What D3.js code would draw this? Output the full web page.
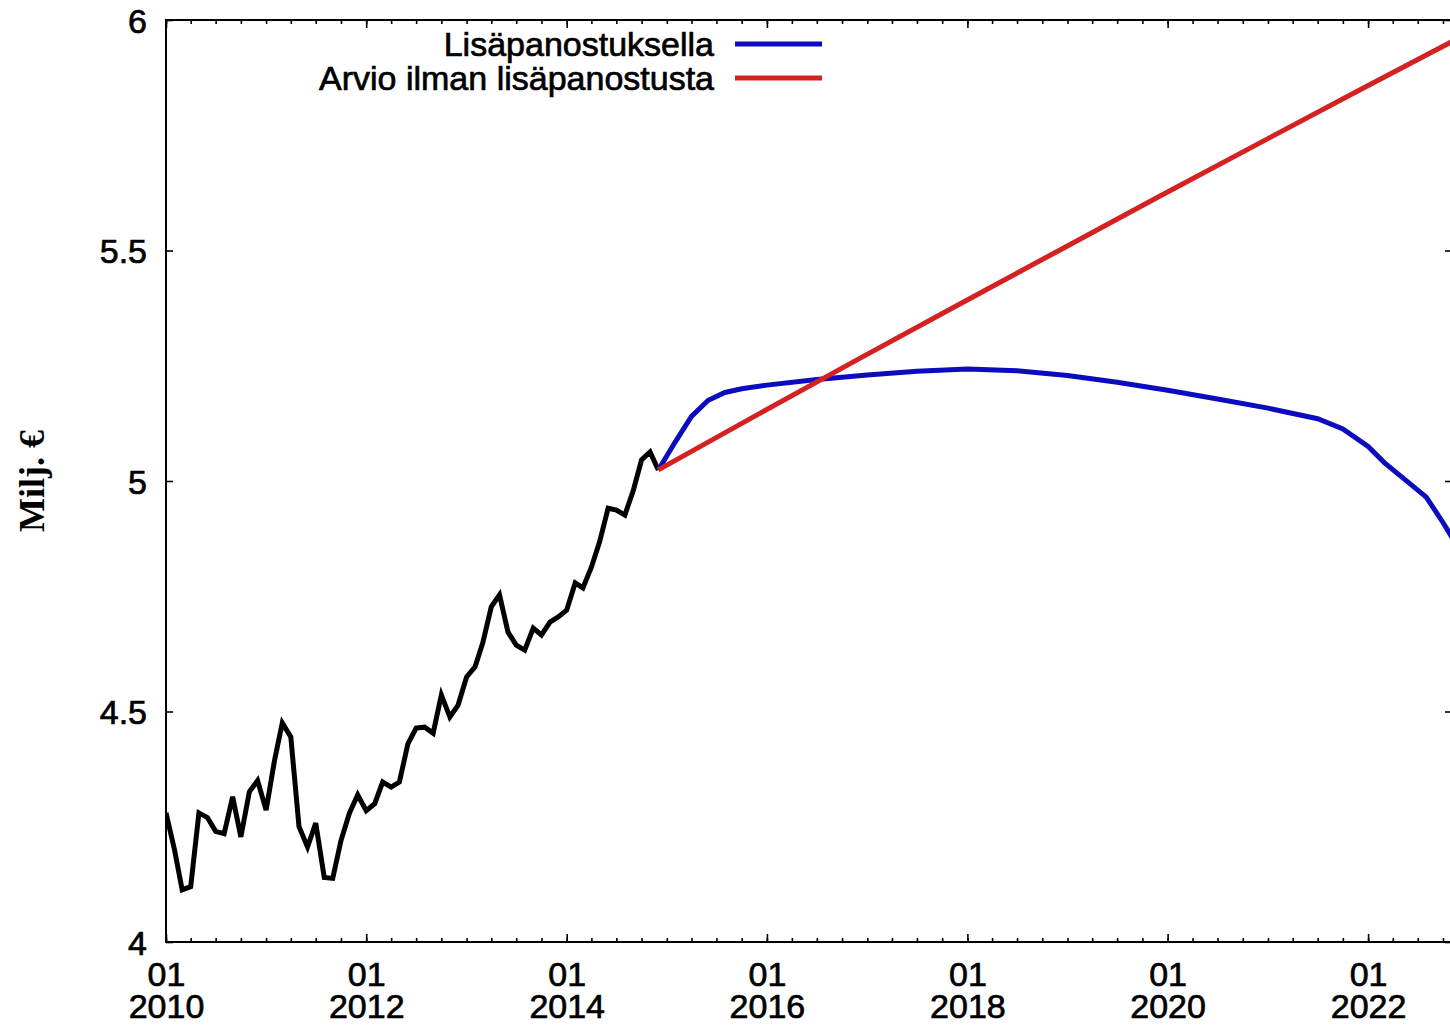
<!DOCTYPE html>
<html>
<head>
<meta charset="utf-8">
<script src="https://cdn.jsdelivr.net/npm/d3@7"></script>
<style>
  html, body { margin: 0; padding: 0; background: #fff; overflow: hidden; }
  #wrapper { width: 1450px; height: 1025px; }
</style>
</head>
<body>
<div id="wrapper"></div>
<script>
// toteutunut, kuukausittain alkaen 2010-01
const actualStart = "2010-01";
const actualValues = [
  4.28, 4.2, 4.113, 4.12, 4.28, 4.27, 4.24, 4.235, 4.315, 4.228, 4.326, 4.35,
  4.286, 4.395, 4.475, 4.445, 4.25, 4.206, 4.258, 4.14, 4.138, 4.22, 4.28, 4.319,
  4.285, 4.3, 4.347, 4.336, 4.347, 4.43, 4.464, 4.466, 4.453, 4.536, 4.488, 4.514,
  4.575, 4.597, 4.649, 4.727, 4.753, 4.672, 4.644, 4.633, 4.681, 4.666, 4.694, 4.705,
  4.72, 4.779, 4.768, 4.813, 4.868, 4.941, 4.937, 4.926, 4.98, 5.046, 5.063, 5.024,
];

// Lisäpanostuksella
const boostDates = [
  "2014-12", "2015-02", "2015-04", "2015-06", "2015-08", "2015-10", "2016-01",
  "2016-07", "2017-01", "2017-07", "2018-01", "2018-07", "2019-01", "2019-07",
  "2020-01", "2020-07", "2021-01", "2021-07", "2021-10", "2022-01", "2022-03",
  "2022-05", "2022-08", "2022-10", "2022-12",
];
const boostValues = [
  5.024, 5.085, 5.14, 5.175, 5.192, 5.2, 5.208,
  5.22, 5.23, 5.238, 5.243, 5.239, 5.229, 5.214,
  5.197, 5.178, 5.158, 5.135, 5.113, 5.075, 5.04,
  5.01, 4.965, 4.91, 4.85,
];

// Arvio ilman lisäpanostusta
const baseDates = [
  "2014-12", "2015-12", "2016-12", "2017-12", "2018-12",
  "2019-12", "2020-12", "2021-12", "2022-12",
];
const baseValues = [5.024, 5.145, 5.265, 5.383, 5.5, 5.617, 5.733, 5.848, 5.962];

const yTicks = [4, 4.5, 5, 5.5, 6];
const xMajorYears = [2010, 2012, 2014, 2016, 2018, 2020, 2022];
const legendLabels = ["Lisäpanostuksella", "Arvio ilman lisäpanostusta"];
const yLabel = "Milj. €";

const drawChart = () => {
  const parseMonth = d3.timeParse("%Y-%m");

  const actual = actualValues.map((v, i) => ({
    date: d3.timeMonth.offset(parseMonth(actualStart), i),
    value: v,
  }));
  const boost = boostDates.map((d, i) => ({ date: parseMonth(d), value: boostValues[i] }));
  const base = baseDates.map((d, i) => ({ date: parseMonth(d), value: baseValues[i] }));

  let dimensions = {
    width: 1450,
    height: 1025,
    margin: { top: 20, right: -2, bottom: 83, left: 166 },
  };
  dimensions.boundedWidth =
    dimensions.width - dimensions.margin.left - dimensions.margin.right;
  dimensions.boundedHeight =
    dimensions.height - dimensions.margin.top - dimensions.margin.bottom;

  const xAccessor = (d) => d.date;
  const yAccessor = (d) => d.value;

  const wrapper = d3
    .select("#wrapper")
    .append("svg")
    .attr("width", dimensions.width)
    .attr("height", dimensions.height)
    .style("font-family", "'Liberation Sans', Arial, sans-serif");

  const bounds = wrapper
    .append("g")
    .attr("transform", `translate(${dimensions.margin.left},${dimensions.margin.top})`);

  // 2 vuotta = 200.3 px
  const pxPerYear = 100.17;
  const xStart = new Date(2010, 0, 1);
  const xEnd = new Date(2023, 0, 1);
  const xScale = d3
    .scaleTime()
    .domain([xStart, xEnd])
    .range([0, 13 * pxPerYear]);

  const yScale = d3
    .scaleLinear()
    .domain([4, 6])
    .range([dimensions.boundedHeight, 0]);

  const lineGenerator = d3
    .line()
    .x((d) => xScale(xAccessor(d)))
    .y((d) => yScale(yAccessor(d)));

  // minor ticks every 3 months, bottom and top
  const minorTicks = d3.timeMonth.every(3).range(xStart, xEnd);
  const minorBottom = d3.axisBottom(xScale).tickValues(minorTicks).tickSizeInner(-4).tickSizeOuter(0).tickFormat("");
  const minorTop = d3.axisTop(xScale).tickValues(minorTicks).tickSizeInner(-4).tickSizeOuter(0).tickFormat("");

  const majorDates = xMajorYears.map((y) => new Date(y, 0, 1));
  const majorBottom = d3
    .axisBottom(xScale)
    .tickValues(majorDates)
    .tickSizeInner(-8)
    .tickSizeOuter(0)
    .tickFormat("");
  const majorTop = d3.axisTop(xScale).tickValues(majorDates).tickSizeInner(-8).tickSizeOuter(0).tickFormat("");

  const yAxisLeft = d3
    .axisLeft(yScale)
    .tickValues(yTicks)
    .tickSizeInner(-7)
    .tickSizeOuter(0)
    .tickPadding(19)
    .tickFormat((d) => d);
  const yAxisRight = d3.axisRight(yScale).tickValues(yTicks).tickSizeInner(-7).tickSizeOuter(0).tickFormat("");

  const styleAxis = (g) => {
    g.select(".domain").remove();
    g.selectAll(".tick line").attr("stroke", "#000").attr("stroke-width", 1.6);
  };

  // jpeg-like heavy text
  const heavy = (sel) => sel.attr("stroke", "#000").attr("stroke-width", 0.7);

  bounds.append("g").attr("transform", `translate(0,${dimensions.boundedHeight})`).call(minorBottom).call(styleAxis);
  bounds.append("g").call(minorTop).call(styleAxis);

  const xAxisG = bounds
    .append("g")
    .attr("transform", `translate(0,${dimensions.boundedHeight})`)
    .call(majorBottom)
    .call(styleAxis);
  bounds.append("g").call(majorTop).call(styleAxis);

  // two rows: month, year
  const tickG = xAxisG.selectAll(".tick");
  tickG
    .append("text")
    .attr("y", 44)
    .attr("fill", "#000")
    .attr("text-anchor", "middle")
    .style("font-size", "34px")
    .call(heavy)
    .text((d) => d3.timeFormat("%m")(d));
  tickG
    .append("text")
    .attr("y", 76)
    .attr("fill", "#000")
    .attr("text-anchor", "middle")
    .style("font-size", "34px")
    .call(heavy)
    .text((d) => d3.timeFormat("%Y")(d));

  const yAxisG = bounds.append("g").call(yAxisLeft).call(styleAxis);
  yAxisG
    .selectAll("text")
    .attr("fill", "#000")
    .style("font-size", "34px")
    .attr("dy", "0.36em")
    .call(heavy);

  bounds
    .append("g")
    .attr("transform", `translate(${dimensions.boundedWidth},0)`)
    .call(yAxisRight)
    .call(styleAxis);

  // frame
  bounds
    .append("rect")
    .attr("x", 0)
    .attr("y", 0)
    .attr("width", dimensions.boundedWidth)
    .attr("height", dimensions.boundedHeight)
    .attr("fill", "none")
    .attr("stroke", "#000")
    .attr("stroke-width", 2);

  bounds
    .append("clipPath")
    .attr("id", "plot-clip")
    .append("rect")
    .attr("width", dimensions.boundedWidth)
    .attr("height", dimensions.boundedHeight);

  const lines = bounds.append("g").attr("clip-path", "url(#plot-clip)");

  lines
    .append("path")
    .datum(actual)
    .attr("d", lineGenerator)
    .attr("fill", "none")
    .attr("stroke", "#000")
    .attr("stroke-width", 5)
    .attr("stroke-linejoin", "miter");

  lines
    .append("path")
    .datum(boost)
    .attr("d", lineGenerator)
    .attr("fill", "none")
    .attr("stroke", "#0b0bbf")
    .attr("stroke-width", 5);

  lines
    .append("path")
    .datum(base)
    .attr("d", lineGenerator)
    .attr("fill", "none")
    .attr("stroke", "#d42222")
    .attr("stroke-width", 5);

  // legend
  const legendColors = ["#0b0bbf", "#d42222"];
  const legend = wrapper.append("g").attr("transform", "translate(714,44)");
  const legendItems = legend
    .selectAll("g")
    .data(legendLabels)
    .join("g")
    .attr("transform", (d, i) => `translate(0,${i * 34})`);
  legendItems
    .append("text")
    .attr("text-anchor", "end")
    .attr("dy", "0.36em")
    .attr("fill", "#000")
    .style("font-size", "34px")
    .call(heavy)
    .text((d) => d);
  legendItems
    .append("line")
    .attr("x1", 21)
    .attr("x2", 108)
    .attr("stroke", (d, i) => legendColors[i])
    .attr("stroke-width", 5);

  wrapper
    .append("text")
    .attr("transform", `translate(31,${dimensions.margin.top + dimensions.boundedHeight / 2}) rotate(-90)`)
    .attr("text-anchor", "middle")
    .attr("dy", "0.35em")
    .attr("fill", "#000")
    .style("font-family", "'Liberation Serif', 'Times New Roman', serif")
    .style("font-weight", "bold")
    .style("font-size", "36px")
    .text(yLabel);
};

drawChart();
</script>
</body>
</html>
